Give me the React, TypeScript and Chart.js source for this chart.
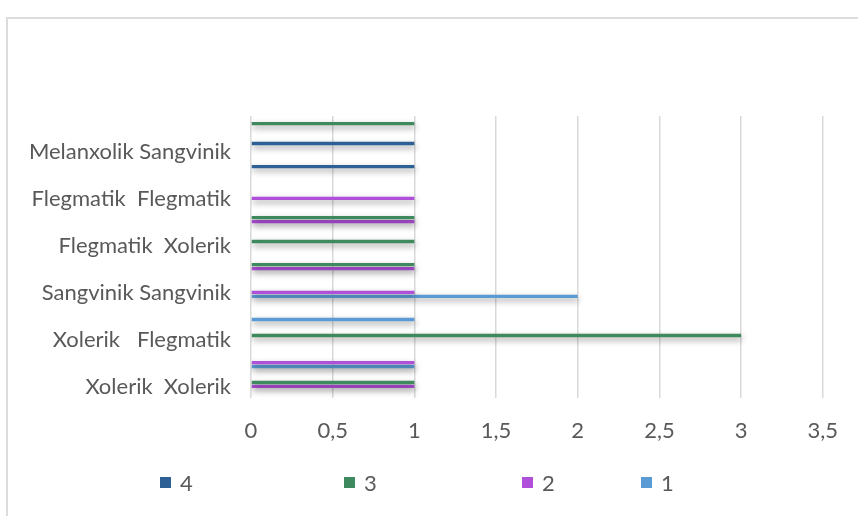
import React, { useEffect, useRef } from "react";
import { Chart, registerables } from "chart.js";

Chart.register(...registerables);

// Categories (top to bottom as drawn)
const categories = [
  "Melanxolik Sangvinik",
  "Flegmatik  Flegmatik",
  "Flegmatik  Xolerik",
  "Sangvinik Sangvinik",
  "Xolerik   Flegmatik",
  "Xolerik  Xolerik",
];

// Upper block of series within each category (4, 3, 2, 1)
const upper4: (number | null)[] = [null, 1, null, null, null, null];
const upper3: (number | null)[] = [1, null, 1, 1, null, null];
const upper2: (number | null)[] = [null, null, 1, 1, null, 1];
const upper1: (number | null)[] = [null, null, null, null, 1, 1];
// Empty slots
const emptySlot: (number | null)[] = [null, null, null, null, null, null];
// Lower block of series within each category (4, 3, 2, 1)
const lower4: (number | null)[] = [1, null, null, null, null, null];
const lower3: (number | null)[] = [null, null, 1, null, 3, 1];
const lower2: (number | null)[] = [null, 1, null, 1, null, 1];
const lower1: (number | null)[] = [null, null, null, 2, null, null];

const xTickLabels = ["0", "0,5", "1", "1,5", "2", "2,5", "3", "3,5"];
const legendNames = ["4", "3", "2", "1"];

const COLOR4 = "#2d6195";
const COLOR3 = "#3e8a5e";
const COLOR2 = "#b04fd9";
const COLOR1 = "#5b9bd5";
const legendColors = [COLOR4, COLOR3, COLOR2, COLOR1];
const legendX = [160, 344, 522, 641];

const FONT = "Lato, 'Open Sans', sans-serif";
const TEXT = "#595959";

const shadowPlugin = {
  id: "barShadow",
  beforeDatasetsDraw(chart: any) {
    const ctx = chart.ctx;
    ctx.save();
    ctx.shadowColor = "rgba(0,0,0,0.4)";
    ctx.shadowBlur = 6;
    ctx.shadowOffsetX = 1;
    ctx.shadowOffsetY = 3;
  },
  afterDatasetsDraw(chart: any) {
    chart.ctx.restore();
  },
};

export default function App() {
  const ref = useRef<HTMLCanvasElement>(null);

  useEffect(() => {
    if (!ref.current) return;
    const mk = (label: string, data: (number | null)[], color: string) => ({
      label,
      data,
      backgroundColor: color,
      borderWidth: 0,
      categoryPercentage: 0.929,
      barPercentage: 0.85,
    });
    const chart = new Chart(ref.current, {
      type: "bar",
      data: {
        labels: categories,
        datasets: [
          mk("4", upper4, COLOR4),
          mk("3", upper3, COLOR3),
          mk("2", upper2, COLOR2),
          mk("1", upper1, COLOR1),
          mk("", emptySlot, "transparent"),
          mk("", emptySlot, "transparent"),
          mk("4", lower4, COLOR4),
          mk("3", lower3, COLOR3),
          mk("2", lower2, COLOR2),
          mk("1", lower1, COLOR1),
          mk("", emptySlot, "transparent"),
        ],
      },
      options: {
        indexAxis: "y",
        animation: false,
        responsive: false,
        maintainAspectRatio: false,
        layout: { padding: { left: 0, top: 116, right: 25, bottom: 68 } },
        plugins: {
          legend: { display: false },
          tooltip: { enabled: false },
          title: { display: false },
        },
        scales: {
          x: {
            type: "linear",
            position: "bottom",
            min: 0,
            max: 3.5,
            ticks: {
              stepSize: 0.5,
              color: TEXT,
              font: { family: FONT, size: 22 },
              padding: 20,
              callback: (_v: any, i: number) => xTickLabels[i],
            },
            grid: { color: "#d9d9d9", lineWidth: 1.5, drawTicks: false },
            border: { display: false },
            afterFit: (s: any) => {
              s.height = 50;
            },
          },
          y: {
            type: "category",
            ticks: {
              color: TEXT,
              font: { family: FONT, size: 22 },
              padding: 20,
              labelOffset: 12,
            },
            grid: { display: false, drawTicks: false },
            border: { display: false },
            afterFit: (s: any) => {
              s.width = 251;
            },
          },
        },
      },
      plugins: [shadowPlugin],
    });
    return () => chart.destroy();
  }, []);

  return (
    <div
      style={{
        position: "fixed",
        left: 0,
        top: 0,
        width: 858,
        height: 516,
        overflow: "hidden",
        background: "#ffffff",
      }}
    >
      <div
        style={{
          position: "absolute",
          left: 6,
          top: 17,
          width: 900,
          height: 600,
          border: "2px solid #dcdcdc",
          boxSizing: "border-box",
        }}
      />
      <canvas
        ref={ref}
        width={858}
        height={516}
        style={{ position: "absolute", left: 0, top: 0, width: 858, height: 516 }}
      />
      {legendNames.map((name, i) => (
        <div
          key={name}
          style={{
            position: "absolute",
            left: legendX[i],
            top: 470,
            height: 24,
            display: "flex",
            alignItems: "center",
            fontFamily: FONT,
            fontSize: 22,
            color: TEXT,
          }}
        >
          <span
            style={{
              display: "inline-block",
              width: 11,
              height: 11,
              background: legendColors[i],
              marginRight: 9,
            }}
          />
          <span>{name}</span>
        </div>
      ))}
    </div>
  );
}
